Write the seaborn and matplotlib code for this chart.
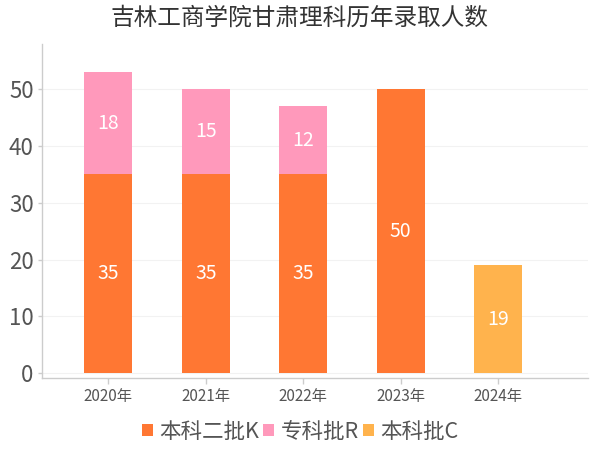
import numpy as np
import pandas as pd
import matplotlib
matplotlib.use("Agg")
import matplotlib.pyplot as plt
import seaborn as sns
from matplotlib.patches import Patch

# data
years = ["2020年", "2021年", "2022年", "2023年", "2024年"]
series_names = ["本科二批K", "专科批R", "本科批C"]
ben2_k = [35, 35, 35, 50, 0]
zhuan_r = [18, 15, 12, 0, 0]
ben_c = [0, 0, 0, 0, 19]
colors = ["#FF7733", "#FF99BB", "#FFB34D"]

sns.set_theme(style="white")
plt.rcParams['font.family'] = ['Noto Sans CJK SC', 'DejaVu Sans']

fig = plt.figure(figsize=(6, 4.5), dpi=100)
ax = fig.add_axes([0.07, 0.16, 0.91, 0.742])

layers = [ben2_k, zhuan_r, ben_c]
bottom = np.zeros(len(years))
for name, vals, col in zip(series_names, layers, colors):
    df = pd.DataFrame({"year": years, "value": vals})
    sns.barplot(data=df, x="year", y="value", order=years, color=col,
                width=0.49, bottom=bottom.copy(), saturation=1,
                linewidth=0, edgecolor="none", errorbar=None, ax=ax)
    cont = ax.containers[-1]
    ax.bar_label(cont, labels=[str(v) if v > 0 else "" for v in vals],
                 label_type="center", color="white", fontsize=14)
    bottom += np.array(vals)

ax.set_xlim(-0.68, 4.92)
ax.set_ylim(-0.9, 58)
ax.set_yticks([0, 10, 20, 30, 40, 50])
ax.set_xlabel("")
ax.set_ylabel("")
ax.grid(axis="y", color="#f2f2f2", linewidth=0.8)
ax.set_axisbelow(True)
for s in ["top", "right"]:
    ax.spines[s].set_visible(False)
for s in ["left", "bottom"]:
    ax.spines[s].set_color("#cccccc")
    ax.spines[s].set_linewidth(1)
ax.tick_params(axis="y", labelsize=16, colors="#cccccc", labelcolor="#555555",
               length=3, width=1, left=True, pad=3)
ax.tick_params(axis="x", labelsize=11, colors="#cccccc", labelcolor="#555555",
               length=4, width=1, bottom=True, pad=3)

fig.suptitle("吉林工商学院甘肃理科历年录取人数", fontsize=17, color="#333333", y=0.985)

handles = [Patch(facecolor=c, edgecolor="none") for c in colors]
fig.legend(handles, series_names, loc="center", bbox_to_anchor=(0.5, 0.04),
           ncol=3, frameon=False, fontsize=15.5, handlelength=0.5, handleheight=0.5,
           handletextpad=0.3, columnspacing=0.2, labelcolor="#555555")

fig.savefig("out.png", dpi=100)
